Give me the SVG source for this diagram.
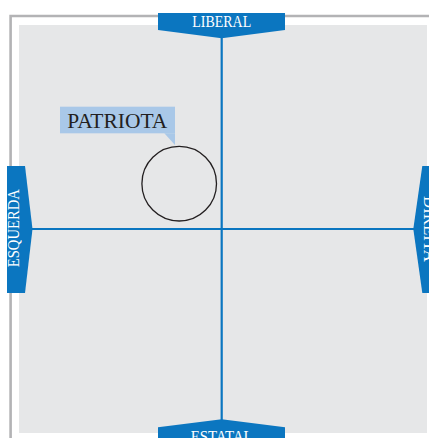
<svg xmlns="http://www.w3.org/2000/svg" width="429" height="438" viewBox="0 0 429 438">
<style>
.tab{fill:#0b76c0}
.axis{stroke:#0b76c0;stroke-width:2.2;fill:none}
.tabtxt{font-family:"Liberation Serif",serif;font-size:16.5px;fill:#ffffff;text-anchor:middle}
</style>
<rect width="429" height="438" fill="#ffffff"/>
<path d="M10.6,438 V16 H429" fill="none" stroke="#b3b3b5" stroke-width="2.6"/>
<rect x="19" y="25" width="408" height="408" fill="#e6e7e8"/>
<g id="connectors">
<line class="axis" x1="221.7" y1="36" x2="221.7" y2="421"/>
<line class="axis" x1="31" y1="229" x2="415" y2="229"/>
</g>
<g id="liberal">
<polygon class="tab" points="158,13 285,13 285,30 221.7,38.3 158,30"/>
<text class="tabtxt" x="221.7" y="27" textLength="59" lengthAdjust="spacingAndGlyphs">LIBERAL</text>
</g>
<g id="estatal">
<polygon class="tab" points="158,440 158,427.3 221.7,419.3 285,427.3 285,440"/>
<text class="tabtxt" x="221.7" y="442.3" textLength="62" lengthAdjust="spacingAndGlyphs">ESTATAL</text>
</g>
<g id="esquerda">
<polygon class="tab" points="7,166 25,166 32.5,229 25,293 7,293"/>
<text class="tabtxt" transform="translate(18.8,228.2) rotate(-90)" textLength="78" lengthAdjust="spacingAndGlyphs">ESQUERDA</text>
</g>
<g id="direita">
<polygon class="tab" points="440,166 422.3,166 413.3,229 422.3,293 440,293"/>
<text class="tabtxt" transform="translate(424,229) rotate(90)" textLength="66" lengthAdjust="spacingAndGlyphs">DIREITA</text>
</g>
<g id="patriota">
<rect x="60" y="106.7" width="115" height="26.6" fill="#a9c8e8"/>
<polygon points="164.3,133.3 175,133.3 175,145" fill="#a9c8e8"/>
<text x="67.3" y="128.3" font-family="Liberation Serif,serif" font-size="21.5" fill="#231f20" textLength="100" lengthAdjust="spacingAndGlyphs">PATRIOTA</text>
</g>
<g id="circle">
<circle cx="179.2" cy="183.7" r="37.3" fill="none" stroke="#231f20" stroke-width="1.3"/>
</g>
</svg>
